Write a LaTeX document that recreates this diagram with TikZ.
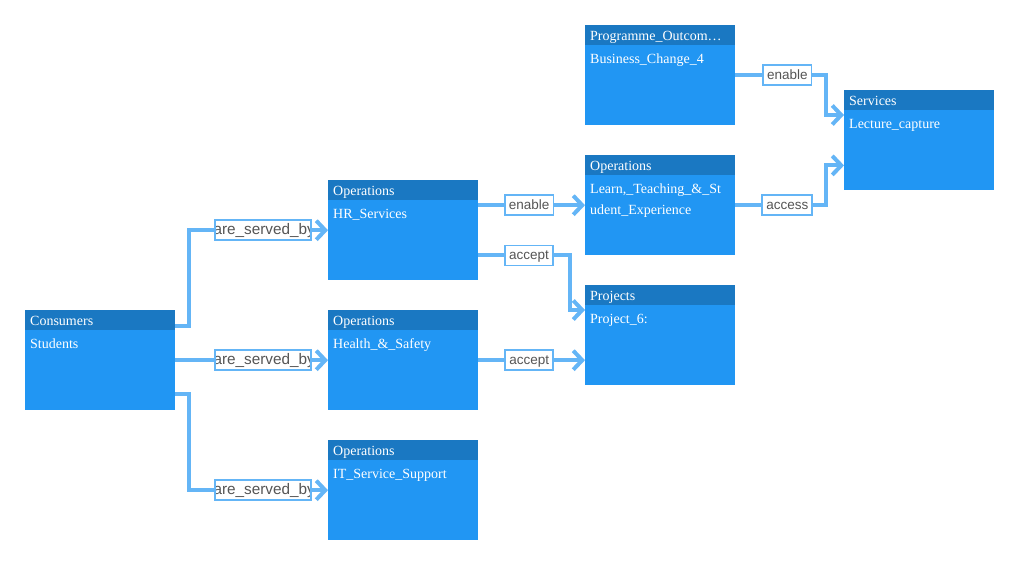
\documentclass[tikz,border=0pt]{standalone}
\usepackage{fontspec}
\setmainfont{Liberation Serif}
\newfontfamily\lblfamily{Liberation Sans}
\usetikzlibrary{arrows.meta}
\definecolor{headblue}{HTML}{1A78C2}
\definecolor{bodyblue}{HTML}{2196F3}
\definecolor{linkblue}{HTML}{64B5F6}
\definecolor{lbltext}{HTML}{555555}
\tikzset{
  x=1pt, y=-1pt,
  entity/.style={anchor=north west, fill=bodyblue, draw=none,
    minimum width=150pt, minimum height=100pt, inner sep=0pt},
  head/.style={anchor=north west, fill=headblue, text=white,
    minimum height=20pt, text width=140pt, inner xsep=5pt, inner ysep=0pt,
    text height=11.5pt, text depth=0pt,
    align=left, font=\fontsize{14}{16}\selectfont},
  bodytext/.style={anchor=base west, text=white, inner sep=0pt,
    text width=140pt, align=left, font=\fontsize{14}{21}\selectfont},
  link/.style={draw=linkblue, line width=4pt,
    -{Straight Barb[length=9pt,width=19pt]}},
  lbl/.style={fill=white, draw=linkblue, line width=1.8pt, text=lbltext,
    font=\lblfamily\fontsize{13.5}{16}\selectfont,
    minimum height=20pt, inner xsep=4pt, inner ysep=0pt,
    text height=11pt, text depth=2pt},
  servedlbl/.style={lbl, minimum width=96pt,
    path picture={\node[text=lbltext, text height=11pt, text depth=2pt,
        font=\lblfamily\fontsize{15.3}{16}\selectfont]
      at ([xshift=1pt]path picture bounding box.center) {are\_served\_by};}},
}
\newcommand{\entitybox}[5]{%
  \node[entity] (#1) at (#2,#3) {};
  \node[head] (#1-h) at (#1.north west) {#4};
  \node[bodytext] (#1-t) at ([xshift=5pt,yshift=-38pt]#1.north west) {#5};
}
\begin{document}
\begin{tikzpicture}
\useasboundingbox (0,0) rectangle (1019,565);

% entities
\entitybox{cons}{25}{310}{Consumers}{Students}
\entitybox{hr}{328}{180}{Operations}{HR\_Services}
\entitybox{hs}{328}{310}{Operations}{Health\_\&\_Safety}
\entitybox{it}{328}{440}{Operations}{IT\_Service\_Support}
\entitybox{prog}{585}{25}{Programme\_Outcom…}{Business\_Change\_4}
\entitybox{learn}{585}{155}{Operations}{Learn,\_Teaching\_\&\_St\\udent\_Experience}
\entitybox{proj}{585}{285}{Projects}{Project\_6:}
\entitybox{serv}{844}{90}{Services}{Lecture\_capture}

% connectors
\draw[link] ([yshift=-16pt]cons.north east) -- ++(14,0) |- (hr.west)
  node[servedlbl, pos=0.75, xshift=4.5pt] (l1) {};
\draw[link] (cons.east) -- (hs.west)
  node[servedlbl, pos=0.5, xshift=11.5pt] (l2) {};
\draw[link] ([yshift=16pt]cons.south east) -- ++(14,0) |- (it.west)
  node[servedlbl, pos=0.75, xshift=4.5pt] (l3) {};

\draw[link] (learn.west -| hr.east) -- (learn.west)
  node[lbl, pos=0.5, xshift=-2.5pt] (l4) {enable};
\draw[link] ([yshift=25pt]hr.south east) -- ++(92,0)
  node[lbl, pos=0.55] (l5) {accept}
  |- ([yshift=-25pt]proj.north west);
\draw[link] (hs.east) -- (hs.east -| proj.west)
  node[lbl, pos=0.5, xshift=-2.5pt] (l6) {accept};

\draw[link] (prog.east) -- ++(91,0)
  node[lbl, pos=0.57] (l7) {enable}
  |- ([yshift=-25pt]serv.north west);
\draw[link] (learn.east) -- ++(91,0)
  node[lbl, pos=0.57] (l8) {access}
  |- ([yshift=25pt]serv.south west);
\end{tikzpicture}
\end{document}
